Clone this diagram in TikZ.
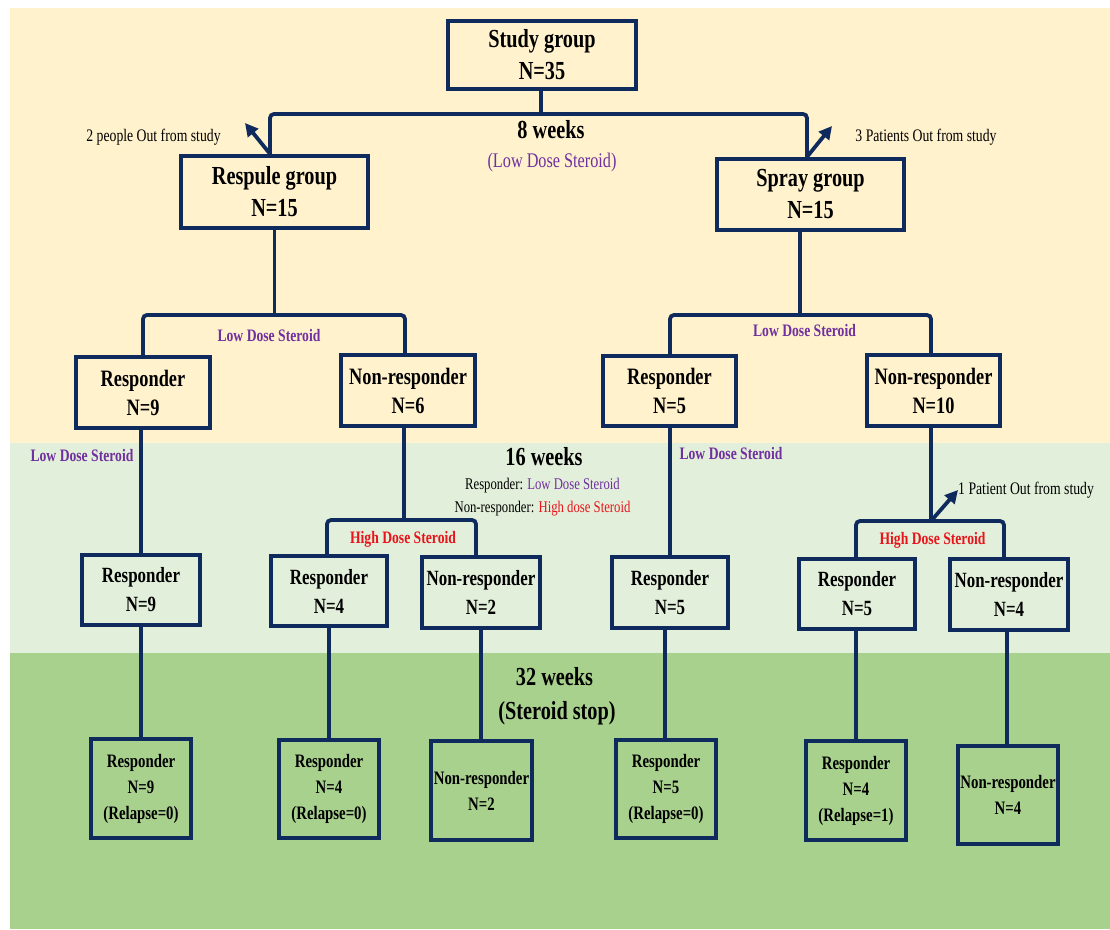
\documentclass[tikz,border=0pt]{standalone}
\usepackage{fontspec}
\setmainfont[FakeStretch=0.78]{Liberation Serif}
\usetikzlibrary{arrows.meta}
\definecolor{navy}{HTML}{0F2A5C}
\definecolor{purp}{HTML}{7030A0}
\definecolor{redd}{HTML}{E8141B}
\definecolor{bandA}{HTML}{FFF2CC}
\definecolor{bandB}{HTML}{E2EFDA}
\definecolor{bandC}{HTML}{A9D18E}
\tikzset{
  box/.style={draw=navy, line width=3.8pt, inner sep=0pt, align=center, text=black},
  bigbox/.style={box, font=\bfseries\fontsize{26}{32}\selectfont},
  midbox/.style={box, font=\bfseries\fontsize{23.5}{29}\selectfont},
  smallbox/.style={box, font=\bfseries\fontsize{21.7}{29}\selectfont},
  endbox/.style={box, font=\bfseries\fontsize{19}{26}\selectfont},
  conn/.style={navy, line width=3.8pt, rounded corners=4pt},
  arr/.style={navy, line width=3.8pt, -{Triangle[length=13pt,width=13pt]}},
  weeks/.style={font=\bfseries\fontsize{26}{32}\selectfont, inner sep=0pt},
  outnote/.style={font=\fontsize{17.6}{20}\selectfont, inner sep=0pt},
  dose/.style={font=\bfseries\fontsize{17.5}{20}\selectfont, inner sep=0pt},
  wh/.style 2 args={minimum width=#1pt, minimum height=#2pt},
}
\begin{document}
\begin{tikzpicture}[x=1pt, y=-1pt]
\useasboundingbox (0,0) rectangle (1110,929);
% bands
\fill[white] (0,0) rectangle (1110,929);
\fill[bandA] (10,8) rectangle (1110,443);
\fill[bandB] (10,443) rectangle (1110,653);
\fill[bandC] (10,653) rectangle (1110,929);

% level 0/1
\node[bigbox, wh={188.5}{68.5}] (study) at (542,55) {Study group\\N=35};
\node[bigbox, wh={187.5}{72.5}] (respule) at (274.5,192) {Respule group\\N=15};
\node[bigbox, wh={187.5}{71.5}] (spray) at (810.5,194.5) {Spray group\\N=15};

% level 2
\node[midbox, wh={134.5}{71.5}] (r9a) at (143,392.5) {Responder\\N=9};
\node[midbox, wh={134.5}{71.5}] (n6) at (408,390.5) {Non-responder\\N=6};
\node[midbox, wh={133.5}{70.5}] (r5a) at (669.5,391) {Responder\\N=5};
\node[midbox, wh={133.5}{71.5}] (n10) at (933.5,390.5) {Non-responder\\N=10};

% level 3
\node[smallbox, wh={118.5}{70.5}] (r9b) at (141,590) {Responder\\N=9};
\node[smallbox, wh={116.5}{70.5}] (r4) at (329,591) {Responder\\N=4};
\node[smallbox, wh={118.5}{71.5}] (n2) at (481,592.5) {Non-responder\\N=2};
\node[smallbox, wh={116.5}{71.5}] (r5b) at (670,592.5) {Responder\\N=5};
\node[smallbox, wh={116.5}{70.5}] (r5c) at (857,594) {Responder\\N=5};
\node[smallbox, wh={118.5}{71.5}] (n4) at (1009,594.5) {Non-responder\\N=4};

% level 4
\node[endbox, wh={100.5}{99.5}] (f1) at (141,788.5) {Responder\\N=9\\(Relapse=0)};
\node[endbox, wh={100.5}{98.5}] (f2) at (329,789) {Responder\\N=4\\(Relapse=0)};
\node[endbox, wh={101.5}{99.5}] (f3) at (481.5,790.5) {Non-responder\\N=2};
\node[endbox, wh={100.5}{98.5}] (f4) at (666,789) {Responder\\N=5\\(Relapse=0)};
\node[endbox, wh={100.5}{99.5}] (f5) at (856,790.5) {Responder\\N=4\\(Relapse=1)};
\node[endbox, wh={100.5}{98.5}] (f6) at (1008,795) {Non-responder\\N=4};

% bracket coordinates
\coordinate (b1L) at (270,114);
\coordinate (b1R) at (807,114);
\coordinate (b2L) at (143,315);
\coordinate (b2R) at (405,315);
\coordinate (b3L) at (670,315);
\coordinate (b3R) at (931,315);
\coordinate (b4L) at (327,520);
\coordinate (b4R) at (476,520);
\coordinate (b5L) at (856,521);
\coordinate (b5R) at (1004,521);
\coordinate (out1) at (245,123);
\coordinate (out2) at (832,126);
\coordinate (out3) at (958,490);

% top bracket
\draw[conn] (study.south -| 541,0) -- (541,114);
\draw[conn] (respule.north -| b1L) -- (b1L) -- (b1R) -- (spray.north -| b1R);
\draw[arr] (respule.north -| b1L) -- (out1);
\draw[arr] (spray.north -| b1R) -- (out2);

% second brackets
\draw[conn] (respule.south) -- (respule.south |- b2L);
\draw[conn] (r9a.north -| b2L) -- (b2L) -- (b2R) -- (n6.north -| b2R);
\draw[conn] (spray.south -| 800,0) -- (800,315);
\draw[conn] (r5a.north -| b3L) -- (b3L) -- (b3R) -- (n10.north -| b3R);

% level 2 -> level 3
\draw[conn] (r9a.south -| 141,0) -- (r9b.north -| 141,0);
\draw[conn] (r5a.south -| 670,0) -- (r5b.north -| 670,0);
\draw[conn] (n6.south -| 404,0) -- (404,520);
\draw[conn] (r4.north -| b4L) -- (b4L) -- (b4R) -- (n2.north -| b4R);
\draw[conn] (n10.south -| b3R) -- (b3R |- b5L);
\draw[conn] (r5c.north -| b5L) -- (b5L) -- (b5R) -- (n4.north -| b5R);
\draw[arr] (931,521) -- (out3);

% level 3 -> level 4
\draw[conn] (r9b.south -| 141,0) -- (f1.north -| 141,0);
\draw[conn] (r4.south -| 329,0) -- (f2.north -| 329,0);
\draw[conn] (n2.south -| 481,0) -- (f3.north -| 481,0);
\draw[conn] (r5b.south -| 665,0) -- (f4.north -| 665,0);
\draw[conn] (r5c.south -| 856,0) -- (f5.north -| 856,0);
\draw[conn] (n4.south -| 1007,0) -- (f6.north -| 1007,0);

% labels
\node[outnote] (t1) at (153.5,137) {2 people Out from study};
\node[outnote] (t2) at (926,137) {3 Patients Out from study};
\node[outnote, anchor=west] (t3) at (958,490) {1 Patient Out from study};
\node[weeks] (w8) at (551,130) {8 weeks};
\node[font=\fontsize{20.8}{24}\selectfont, text=purp, inner sep=0pt] (w8d) at (552,162) {(Low Dose Steroid)};
\node[dose, text=purp] (d1) at (269,336) {Low Dose Steroid};
\node[dose, text=purp] (d2) at (804.5,331) {Low Dose Steroid};
\node[dose, text=purp] (d3) at (82,456) {Low Dose Steroid};
\node[dose, text=purp] (d4) at (731,454) {Low Dose Steroid};
\node[weeks] (w16) at (544,457) {16 weeks};
\node[font=\fontsize{16.3}{19}\selectfont, inner sep=0pt] (l16a) at (542.5,486) {Responder: \textcolor{purp}{Low Dose Steroid}};
\node[font=\fontsize{16.3}{19}\selectfont, inner sep=0pt] (l16b) at (542.5,509) {Non-responder: \textcolor{redd}{High dose Steroid}};
\node[dose, text=redd] (h1) at (403,539) {High Dose Steroid};
\node[dose, text=redd] (h2) at (932.5,540) {High Dose Steroid};
\node[weeks] (w32) at (554.5,677) {32 weeks};
\node[weeks] (w32b) at (557,713) {(Steroid stop)};
\end{tikzpicture}
\end{document}
